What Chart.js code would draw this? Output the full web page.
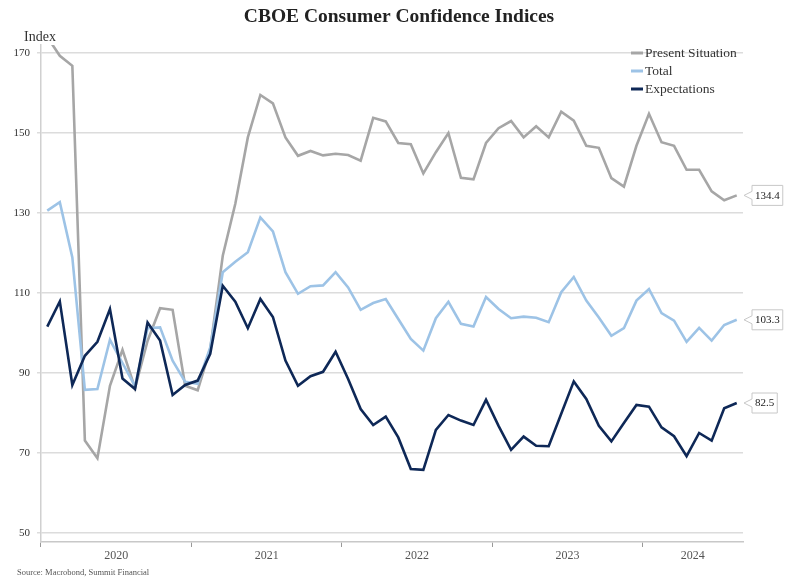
<!doctype html>
<html lang="en">
<head>
<meta charset="utf-8">
<title>CBOE Consumer Confidence Indices</title>
<script src="https://cdn.jsdelivr.net/npm/chart.js@4.4.1/dist/chart.umd.min.js"></script>
<style>
  body { margin: 0; background: #fff; }
  #wrap { width: 785px; height: 580px; position: relative; }
</style>
</head>
<body>
<div id="wrap"><canvas id="chart"></canvas></div>
<script>
// monthly, Jan 2020 .. Aug 2024
var years = ['2020', '2021', '2022', '2023', '2024'];
var months = [];
for (var y = 0; y < years.length; y++) {
  for (var m = 1; m <= 12; m++) {
    if (years[y] === '2024' && m > 8) break;
    months.push(years[y] + '-' + (m < 10 ? '0' + m : m));
  }
}

var present = [174.0, 169.3, 166.8, 73.1, 68.7, 86.8, 95.8, 86.2, 98.0, 106.2, 105.8, 86.8,
  85.7, 96.0, 119.3, 132.3, 148.9, 159.5, 157.4, 148.9, 144.3, 145.5, 144.4, 144.8,
  144.5, 143.1, 153.8, 152.9, 147.5, 147.2, 139.9, 145.2, 150.0, 138.8, 138.4, 147.5,
  151.2, 153.0, 148.9, 151.7, 148.9, 155.3, 153.1, 146.8, 146.3, 138.7, 136.6, 146.8,
  154.8, 147.7, 146.8, 140.8, 140.8, 135.4, 133.2, 134.4];

var total = [130.6, 132.7, 118.9, 85.8, 86.0, 98.3, 92.5, 86.7, 101.2, 101.4, 93.1, 87.8,
  87.3, 96.4, 115.2, 117.8, 120.2, 128.9, 125.4, 115.2, 109.8, 111.7, 111.9, 115.2,
  111.4, 105.8, 107.5, 108.5, 103.5, 98.5, 95.6, 103.7, 107.8, 102.3, 101.6, 109.0,
  106.0, 103.7, 104.1, 103.8, 102.7, 110.2, 114.0, 108.1, 103.9, 99.3, 101.2, 108.1,
  111.0, 105.0, 103.1, 97.8, 101.3, 98.1, 102.0, 103.3];

var expectations = [101.6, 107.9, 87.0, 94.3, 97.8, 106.0, 88.6, 86.0, 102.6, 98.1, 84.5, 87.0,
  88.1, 94.8, 111.8, 107.8, 101.2, 108.5, 104.0, 93.1, 86.8, 89.2, 90.3, 95.3,
  88.5, 81.0, 77.0, 79.1, 73.9, 66.0, 65.8, 75.8, 79.5, 78.1, 77.0, 83.3,
  76.8, 70.8, 74.1, 71.8, 71.7, 79.8, 87.9, 83.5, 76.8, 72.9, 77.5, 82.0,
  81.6, 76.4, 74.2, 69.2, 75.0, 73.1, 81.2, 82.5];

var yTicks = [50, 70, 90, 110, 130, 150, 170];

var serif = '"Liberation Serif", "DejaVu Serif", serif';

// year label sits in the middle of the months shown for that year
var yearLabelAt = {};
years.forEach(function (yr) {
  var first = -1, last = -1;
  months.forEach(function (mo, i) {
    if (mo.slice(0, 4) === yr) { if (first < 0) first = i; last = i; }
  });
  yearLabelAt[Math.ceil((first + last) / 2)] = yr;
});

var extras = {
  id: 'extras',
  afterDatasetsDraw: function (chart) {
    var ctx = chart.ctx, area = chart.chartArea;
    ctx.save();

    // end-of-line value boxes
    ctx.font = '11px ' + serif;
    ctx.textBaseline = 'middle';
    chart.data.datasets.forEach(function (ds, d) {
      var meta = chart.getDatasetMeta(d);
      var pt = meta.data[meta.data.length - 1];
      var val = ds.data[ds.data.length - 1].toFixed(1);
      var tip = area.right + 1, bx = area.right + 9, y = pt.y;
      var w = ctx.measureText(val).width + 6, h = 20;
      ctx.beginPath();
      ctx.moveTo(tip, y);
      ctx.lineTo(bx, y - 4);
      ctx.lineTo(bx, y - h / 2);
      ctx.lineTo(bx + w, y - h / 2);
      ctx.lineTo(bx + w, y + h / 2);
      ctx.lineTo(bx, y + h / 2);
      ctx.lineTo(bx, y + 4);
      ctx.closePath();
      ctx.fillStyle = '#fff';
      ctx.fill();
      ctx.strokeStyle = '#c8c8c8';
      ctx.lineWidth = 1;
      ctx.stroke();
      ctx.fillStyle = '#222';
      ctx.textAlign = 'left';
      ctx.fillText(val, bx + 3, y + 0.5);
    });

    // legend
    ctx.font = '13.5px ' + serif;
    chart.data.datasets.forEach(function (ds, d) {
      var ly = 53 + d * 18;
      ctx.strokeStyle = ds.borderColor;
      ctx.lineWidth = 3;
      ctx.beginPath();
      ctx.moveTo(631, ly);
      ctx.lineTo(643, ly);
      ctx.stroke();
      ctx.fillStyle = '#333';
      ctx.textAlign = 'left';
      ctx.fillText(ds.label, 645, ly);
    });

    // title, axis title, source
    ctx.fillStyle = '#222';
    ctx.textAlign = 'center';
    ctx.font = 'bold 19.5px ' + serif;
    ctx.fillText('CBOE Consumer Confidence Indices', 399, 17);
    ctx.textAlign = 'left';
    ctx.font = '14px ' + serif;
    ctx.fillStyle = '#333';
    ctx.fillText('Index', 24, 37);
    ctx.font = '8.5px ' + serif;
    ctx.fillStyle = '#555';
    ctx.fillText('Source: Macrobond, Summit Financial', 17, 573);
    ctx.restore();
  }
};

new Chart(document.getElementById('chart').getContext('2d'), {
  type: 'line',
  data: {
    labels: months,
    datasets: [{
      label: 'Present Situation',
      data: present,
      borderColor: '#a6a6a6',
      order: 3
    }, {
      label: 'Total',
      data: total,
      borderColor: '#9dc3e6',
      order: 2
    }, {
      label: 'Expectations',
      data: expectations,
      borderColor: '#0e2857',
      order: 1
    }]
  },
  options: {
    responsive: true,
    maintainAspectRatio: false,
    animation: false,
    layout: { padding: { top: 45, right: 42, left: 0, bottom: 0 } },
    elements: {
      line: { borderWidth: 2.6, tension: 0 },
      point: { radius: 0 }
    },
    plugins: {
      legend: { display: false },
      tooltip: { enabled: false }
    },
    scales: {
      x: {
        type: 'category',
        offset: true,
        afterFit: function (s) { s.height = 38; },
        border: { color: '#c8c8c8', width: 1.5 },
        grid: {
          offset: true,
          drawOnChartArea: false,
          tickLength: 5,
          color: function (c) { return c.index % 12 === 0 ? '#999' : 'rgba(0,0,0,0)'; }
        },
        ticks: {
          autoSkip: false,
          maxRotation: 0,
          padding: 2,
          labelOffset: -6.27,
          color: '#555',
          font: { family: serif, size: 12 },
          callback: function (v, i) { return yearLabelAt[i] || ''; }
        }
      },
      y: {
        min: 47.75,
        max: 172,
        afterFit: function (s) { s.width = 41; },
        afterBuildTicks: function (s) {
          s.ticks = yTicks.map(function (v) { return { value: v }; });
        },
        border: { color: '#d0d0d0', width: 1.5 },
        grid: { color: '#dcdcdc', lineWidth: 1.5, tickLength: 4 },
        ticks: {
          padding: 7,
          color: '#333',
          font: { family: serif, size: 11 }
        }
      }
    }
  },
  plugins: [extras]
});
</script>
</body>
</html>
